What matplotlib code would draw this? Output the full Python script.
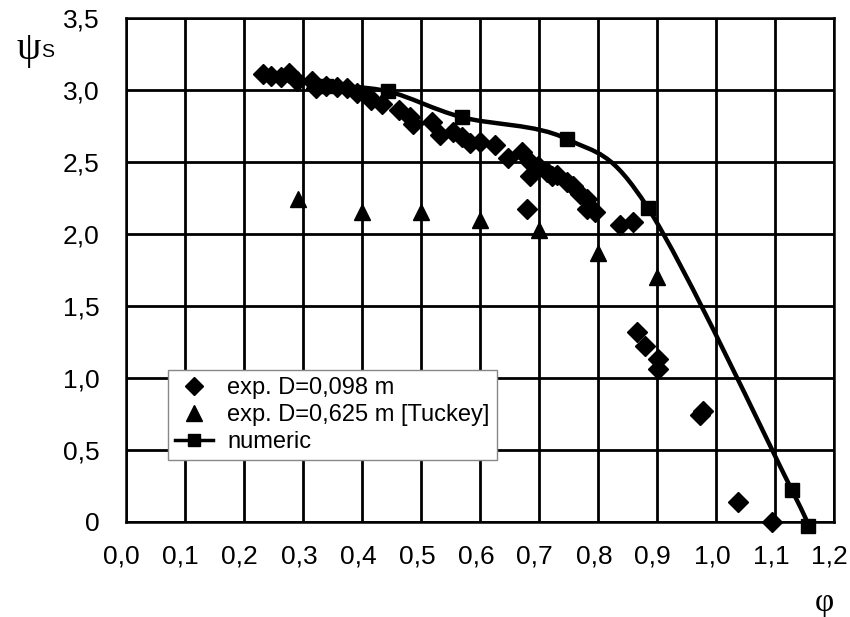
import numpy as np
import matplotlib
matplotlib.use("Agg")
import matplotlib.pyplot as plt
from matplotlib.path import Path
from matplotlib.patches import PathPatch
from matplotlib.lines import Line2D
from matplotlib.transforms import ScaledTranslation

plt.rcParams['font.family'] = ['Liberation Sans', 'DejaVu Sans']

# exp. D=0,098 m
exp_small_x = [0.232, 0.246, 0.263, 0.276, 0.290, 0.315, 0.322, 0.339, 0.358, 0.375,
               0.392, 0.410, 0.415, 0.434, 0.463, 0.481, 0.486, 0.519, 0.532, 0.554,
               0.569, 0.583, 0.600, 0.625, 0.647, 0.671, 0.685, 0.685, 0.698, 0.714,
               0.722, 0.731, 0.747, 0.758, 0.769, 0.781, 0.795, 0.781, 0.680, 0.837,
               0.859, 0.866, 0.880, 0.902, 0.902, 0.973, 0.978, 1.037, 1.095]
exp_small_y = [3.11, 3.10, 3.09, 3.12, 3.06, 3.06, 3.01, 3.03, 3.02, 3.01,
               2.98, 2.96, 2.93, 2.90, 2.86, 2.81, 2.76, 2.78, 2.69, 2.71,
               2.67, 2.63, 2.64, 2.62, 2.53, 2.57, 2.50, 2.40, 2.47, 2.43,
               2.40, 2.41, 2.36, 2.33, 2.28, 2.24, 2.15, 2.17, 2.17, 2.06,
               2.08, 1.32, 1.22, 1.13, 1.06, 0.74, 0.77, 0.14, 0.00]

# exp. D=0,625 m [Tuckey]
exp_large_x = [0.292, 0.40, 0.50, 0.60, 0.70, 0.80, 0.90]
exp_large_y = [2.24, 2.15, 2.15, 2.10, 2.03, 1.87, 1.70]

# numeric
num_x = [0.340, 0.444, 0.570, 0.747, 0.885, 1.129, 1.156]
num_y = [3.03, 2.99, 2.81, 2.66, 2.18, 0.22, -0.03]

x_ticks = np.arange(0, 1.21, 0.1)
x_labels = ['0,0', '0,1', '0,2', '0,3', '0,4', '0,5', '0,6', '0,7', '0,8', '0,9', '1,0', '1,1', '1,2']
y_ticks = np.arange(0, 3.51, 0.5)
y_labels = ['0', '0,5', '1,0', '1,5', '2,0', '2,5', '3,0', '3,5']


def smooth_path(xs, ys, t=0.5):
    # Catmull-Rom style bezier path through the points (like Excel smoothed line)
    pts = np.column_stack([xs, ys])
    verts = [pts[0]]
    codes = [Path.MOVETO]
    n = len(pts)
    for i in range(n - 1):
        p0 = pts[i - 1] if i > 0 else pts[i]
        p1 = pts[i]
        p2 = pts[i + 1]
        p3 = pts[i + 2] if i + 2 < n else pts[i + 1]
        c1 = p1 + (p2 - p0) * t / 3
        c2 = p2 - (p3 - p1) * t / 3
        verts += [c1, c2, p2]
        codes += [Path.CURVE4] * 3
    return Path(verts, codes)


fig = plt.figure(figsize=(8.5, 6.17), dpi=100)
ax = fig.add_axes([0.148, 0.154, 0.833, 0.817])

ax.set_xlim(0, 1.2)
ax.set_ylim(0, 3.5)
ax.set_xticks(x_ticks)
ax.set_xticklabels(x_labels)
ax.set_yticks(y_ticks)
ax.set_yticklabels(y_labels)
ax.tick_params(length=0, labelsize=19)
ax.tick_params(axis='x', pad=16)
ax.tick_params(axis='y', pad=19)
# labels sit a little left of the gridlines in the original
shift = ScaledTranslation(-4 / 100, 0, fig.dpi_scale_trans)
for lab in ax.get_xticklabels():
    lab.set_transform(lab.get_transform() + shift)
ax.grid(True, color='black', linewidth=2.0)
ax.set_axisbelow(True)
for s in ax.spines.values():
    s.set_linewidth(1.8)

# numeric curve
ax.add_patch(PathPatch(smooth_path(num_x, num_y), fill=False, edgecolor='black',
                       linewidth=3.2, zorder=3, clip_on=False))
ax.plot(num_x, num_y, linestyle='none', marker='s', markersize=10, color='black',
        zorder=4, clip_on=False)

ax.plot(exp_small_x, exp_small_y, linestyle='none', marker='D', markersize=10,
        color='black', zorder=5, clip_on=False)
ax.plot(exp_large_x, exp_large_y, linestyle='none', marker='^', markersize=12,
        color='black', zorder=5, clip_on=False)

handles = [
    Line2D([], [], linestyle='none', marker='D', markersize=9, color='black'),
    Line2D([], [], linestyle='none', marker='^', markersize=11, color='black'),
    Line2D([], [], linestyle='-', linewidth=2.5, marker='s', markersize=8, color='black'),
]
labels = ['exp. D=0,098 m', 'exp. D=0,625 m [Tuckey]', 'numeric']
leg = ax.legend(handles, labels, loc='upper left', bbox_to_anchor=(0.06, 0.302),
                fontsize=17, frameon=True, fancybox=False, framealpha=1,
                edgecolor='#888888', handlelength=1.6, handletextpad=0.6,
                labelspacing=0.22, borderpad=0.3, borderaxespad=0)
leg.get_frame().set_linewidth(1.0)
leg.set_zorder(10)

fig.text(0.02, 0.905, '\u03c8', fontsize=28, family='Liberation Serif')
fig.text(0.048, 0.907, 'S', fontsize=14)
fig.text(0.958, 0.01, '\u03c6', fontsize=24, family='Liberation Serif')

fig.savefig('out.png', dpi=100)
